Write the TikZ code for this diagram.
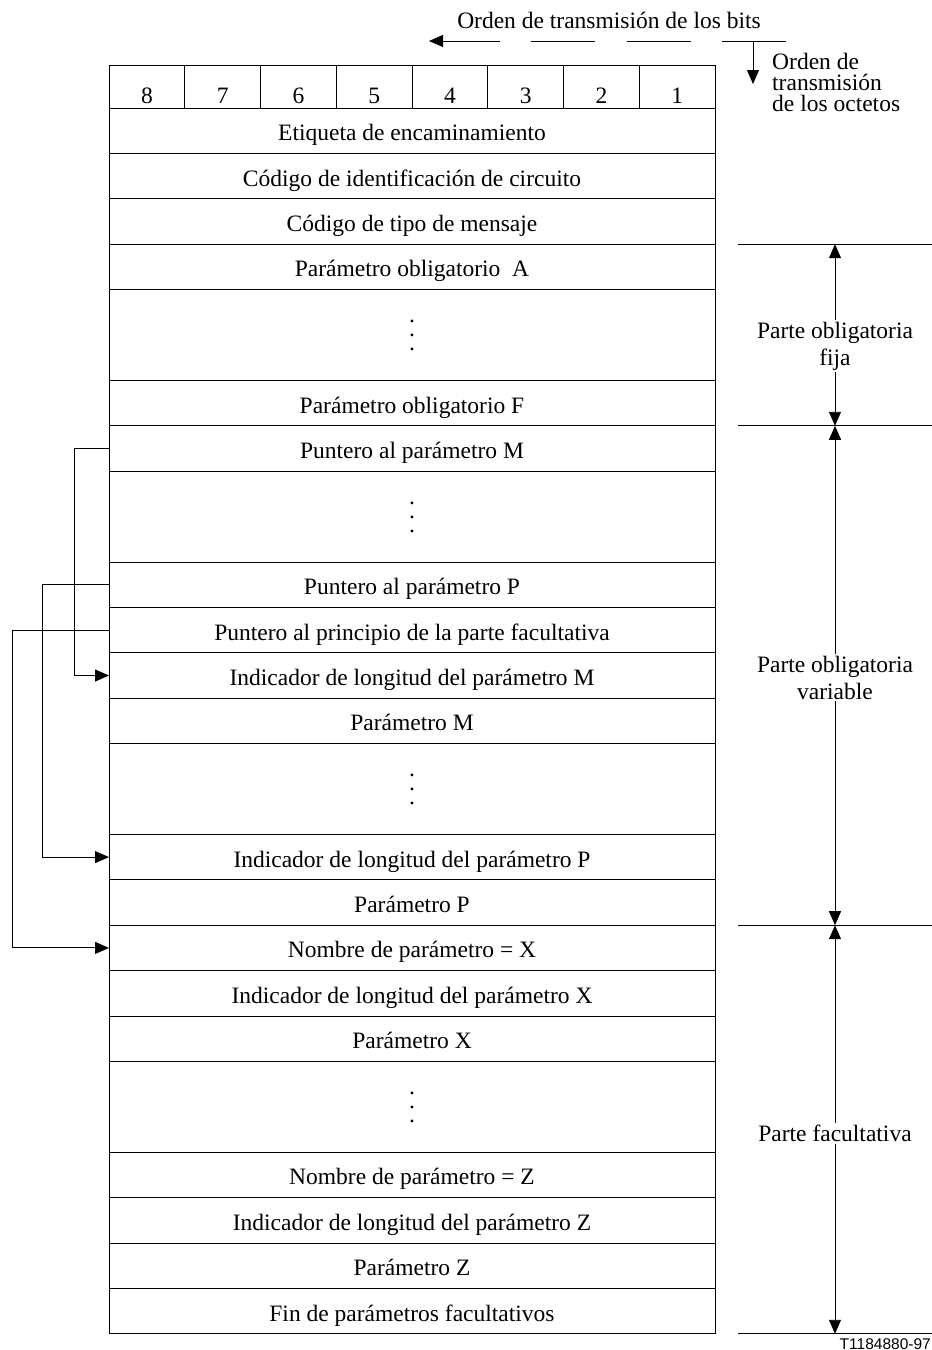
\documentclass[tikz,border=0pt]{standalone}
\usepackage{fontspec}
\setmainfont{Liberation Serif}
\newfontfamily\codefont{Liberation Sans}
\usetikzlibrary{positioning, arrows.meta}
\newcommand\vdotcol{\vbox{\baselineskip=14pt\hbox{.}\hbox{.}\hbox{.}}}
\tikzset{
  bitcell/.style={
    rectangle, draw, line width=0.9pt, anchor=north west,
    minimum width=75.75pt, minimum height=43pt, inner sep=0pt, outer sep=0pt,
    text height=33pt, text depth=0pt
  },
  field/.style={
    rectangle, draw, line width=0.9pt,
    minimum width=606pt, minimum height=45.4pt, inner sep=0pt, outer sep=0pt,
    text height=24pt, text depth=4pt
  },
  gapfield/.style={field, minimum height=90.8pt, text height=31pt, text depth=0pt},
  arrow/.style={line width=0.9pt, -{Triangle[length=14pt, width=12pt]}},
  span/.style={line width=0.9pt, {Triangle[length=14pt, width=12pt]}-{Triangle[length=14pt, width=12pt]}},
  partlabel/.style={fill=white, inner sep=2pt, align=center},
  boundline/.style={line width=0.9pt}
}
\begin{document}
\begin{tikzpicture}[x=1pt, y=-1pt, node distance=0pt, font=\fontsize{23.5}{27}\selectfont]
\useasboundingbox (0,0) rectangle (932,1350);

% Bit numbering
\foreach \b [count=\i] in {8,7,...,1}
  \node[bitcell] (bit\b) at ({109+(\i-1)*75.75}, 65) {\b};

% Message octets
\node[field, anchor=north] (etiq) at (412,108) {Etiqueta de encaminamiento};
\node[field, below=of etiq] (cic) {Código de identificación de circuito};
\node[field, below=of cic] (tipo) {Código de tipo de mensaje};
\node[field, below=of tipo] (obA) {Parámetro obligatorio~~A};
\node[gapfield, below=of obA] (dotsA) {\vdotcol};
\node[field, below=of dotsA] (obF) {Parámetro obligatorio F};
\node[field, below=of obF] (ptrM) {Puntero al parámetro M};
\node[gapfield, below=of ptrM] (dotsM) {\vdotcol};
\node[field, below=of dotsM] (ptrP) {Puntero al parámetro P};
\node[field, below=of ptrP] (ptrO) {Puntero al principio de la parte facultativa};
\node[field, below=of ptrO] (lenM) {Indicador de longitud del parámetro M};
\node[field, below=of lenM] (parM) {Parámetro M};
\node[gapfield, below=of parM] (dotsP) {\vdotcol};
\node[field, below=of dotsP] (lenP) {Indicador de longitud del parámetro P};
\node[field, below=of lenP] (parP) {Parámetro P};
\node[field, below=of parP] (nameX) {Nombre de parámetro = X};
\node[field, below=of nameX] (lenX) {Indicador de longitud del parámetro X};
\node[field, below=of lenX] (parX) {Parámetro X};
\node[gapfield, below=of parX] (dotsX) {\vdotcol};
\node[field, below=of dotsX] (nameZ) {Nombre de parámetro = Z};
\node[field, below=of nameZ] (lenZ) {Indicador de longitud del parámetro Z};
\node[field, below=of lenZ] (parZ) {Parámetro Z};
\node[field, below=of parZ] (fin) {Fin de parámetros facultativos};

% Pointers
\draw[arrow] (ptrM.west) -- ++(-35,0) |- (lenM.west);
\draw[arrow] (ptrP.west) -- ++(-67,0) |- (lenP.west);
\draw[arrow] (ptrO.west) -- ++(-97,0) |- (nameX.west);

% Transmission order
\node[anchor=base] (bitsord) at (609,28) {Orden de transmisión de los bits};
\coordinate (bitsR) at (786,41);
\coordinate (bitsL) at (429,41);
\draw[arrow, dash pattern=on 64pt off 31.5pt] (bitsR) -- (bitsL);
\coordinate (octT) at (753,41);
\coordinate (octB) at (753,84);
\draw[arrow] (octT) -- (octB);
\node[anchor=north west, align=left, inner sep=0pt, font=\fontsize{23.5}{21}\selectfont] (octord) at (772,53) {Orden de\\transmisión\\de los octetos};

% Parts
\coordinate (rl) at (738,0);
\coordinate (rr) at (932,0);
\coordinate (ax) at (835,0);
\draw[boundline] (obA.north -| rl) -- (obA.north -| rr);
\draw[boundline] (obF.south -| rl) -- (obF.south -| rr);
\draw[boundline] (parP.south -| rl) -- (parP.south -| rr);
\draw[boundline] (fin.south -| rl) -- (fin.south -| rr);
\draw[span] (obA.north -| ax) -- node[partlabel, yshift=-11pt] (fixa) {Parte obligatoria\\fija} (obF.south -| ax);
\draw[span] (obF.south -| ax) -- node[partlabel, yshift=-2pt] (vara) {Parte obligatoria\\variable} (parP.south -| ax);
\draw[span] (parP.south -| ax) -- node[partlabel, yshift=-4pt] (facu) {Parte facultativa} (fin.south -| ax);

\node[anchor=base east, inner sep=0pt, font=\codefont\fontsize{15.5}{15.5}\selectfont] (figcode) at (931,1349) {T1184880-97};
\end{tikzpicture}
\end{document}
